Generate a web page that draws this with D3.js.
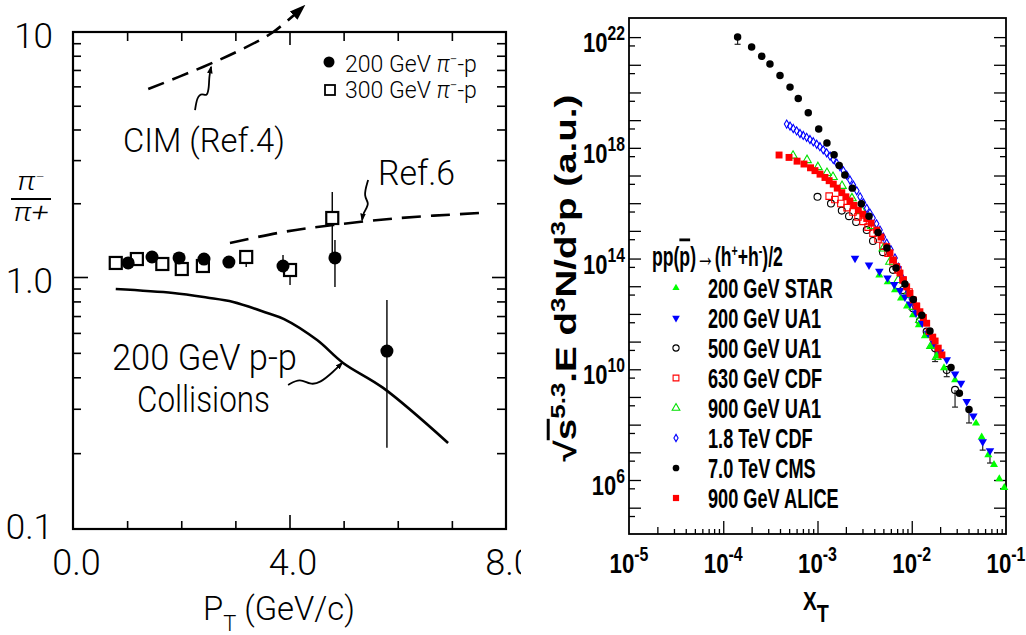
<!DOCTYPE html>
<html><head><meta charset="utf-8">
<script src="https://cdn.jsdelivr.net/npm/d3@7"></script>
<style>html,body{margin:0;padding:0;background:#fff}svg{display:block}</style>
</head><body>
<svg id="c" width="1026" height="635"></svg>
<script>
// ================= LEFT PANEL DATA (pi-/pi+ ratio vs pT) =================
const pt200 = [1.02, 1.46, 1.96, 2.42, 2.88, 3.88, 4.84, 5.80];
const ratio200 = [1.141, 1.207, 1.196, 1.184, 1.151, 1.109, 1.196, 0.508];
const ratio200Lo = [null, null, null, null, null, 1.068, 0.913, 0.21];
const ratio200Hi = [null, null, null, null, null, 1.23, 1.416, 0.81];
const pt300 = [0.79, 1.18, 1.65, 2.01, 2.40, 3.20, 4.01, 4.79];
const ratio300 = [1.141, 1.184, 1.130, 1.078, 1.109, 1.207, 1.068, 1.741];
const ratio300Lo = [null, null, null, null, null, 1.099, 0.930, 1.253];
const ratio300Hi = [null, null, null, null, null, 1.289, 1.119, 2.223];
const cimPt = [1.39, 2.40, 3.09, 3.70, 4.25];
const cimRatio = [5.85, 7.20, 8.44, 10.0, 12.65];
const ref6Pt = [2.90, 3.88, 4.81, 6.04, 7.52];
const ref6Ratio = [1.377, 1.526, 1.630, 1.741, 1.825];
const ppPt = [0.79, 1.85, 2.47, 2.96, 3.59, 3.90, 4.51, 4.99, 5.73, 6.93];
const ppRatio = [0.896, 0.864, 0.829, 0.796, 0.720, 0.681, 0.562, 0.456, 0.363, 0.2195];
// hand-drawn pointer squiggles (data units)
const cimPtrPt = [2.255, 2.292, 2.384, 2.477, 2.514, 2.514, 2.551];
const cimPtrR = [4.80, 5.43, 5.64, 5.43, 5.97, 6.55, 7.20];
const ref6PtrPt = [5.453, 5.360, 5.490, 5.360, 5.342];
const ref6PtrR = [2.489, 2.121, 2.005, 1.825, 1.709];
const ppPtrPt = [3.974, 4.196, 4.381, 4.566, 4.806, 4.972];
const ppPtrR = [0.373, 0.397, 0.373, 0.380, 0.420, 0.456];
const xTicksL = [0, 4, 8];
const xTickLabelsL = ['0.0', '4.0', '8.0'];
const yTicksL = [0.1, 1, 10];
const yTickLabelsL = ['0.1', '1.0', '10'];
const xMinorL = [1, 2, 3, 5, 6, 7];
const yMinorL = [0.2, 0.3, 0.4, 0.5, 0.6, 0.7, 0.8, 0.9, 2, 3, 4, 5, 6, 7, 8, 9];

// ================= RIGHT PANEL DATA (xT scaling) =================
const xStar = [4.53e-3, 5.56e-3, 6.64e-3, 7.69e-3, 8.91e-3, 1.03e-2, 1.19e-2, 1.38e-2, 1.60e-2, 1.85e-2, 2.20e-2, 2.88e-2, 4.81e-2, 5.52e-2, 6.49e-2, 7.46e-2, 8.49e-2, 9.59e-2];
const yStar = [2.5e13, 1.42e13, 7.3e12, 3.7e12, 1.9e12, 9.1e11, 4.0e11, 1.6e11, 6.9e10, 3.0e10, 1.12e10, 4.1e9, 1.12e8, 3.5e7, 8.0e6, 3.6e6, 1.09e6, 5.3e5];
const xUA1200 = [2.50e-3, 3.52e-3, 4.53e-3, 5.53e-3, 6.52e-3, 7.50e-3, 8.47e-3, 9.57e-3, 1.11e-2, 1.29e-2, 1.49e-2, 1.72e-2, 2.00e-2, 2.35e-2, 2.88e-2, 3.33e-2, 3.83e-2, 4.50e-2, 5.66e-2, 6.76e-2];
const yUA1200 = [1.02e14, 5.8e13, 3.5e13, 2.0e13, 1.15e13, 7.0e12, 4.1e12, 2.3e12, 1.07e12, 4.7e11, 2.0e11, 8.9e10, 4.2e10, 2.2e10, 6.8e9, 3.1e9, 6.8e8, 2.05e8, 2.4e7, 1.15e7];
const xUA1500 = [1.00e-3, 1.39e-3, 1.81e-3, 2.16e-3, 2.57e-3, 3.33e-3, 3.88e-3, 4.95e-3, 6.32e-3, 8.07e-3, 1.03e-2, 1.22e-2, 1.44e-2, 1.77e-2, 2.35e-2, 2.88e-2];
const yUA1500 = [1.7e16, 9.7e15, 5.4e15, 3.4e15, 2.1e15, 1.07e15, 4.3e14, 1.7e14, 3.9e13, 7.3e12, 1.6e12, 5.5e11, 2.3e11, 5.7e10, 9.4e9, 1.8e9];
const xCDF630 = [1.33e-3, 1.53e-3, 1.77e-3, 2.06e-3, 2.38e-3, 2.69e-3, 3.04e-3, 3.44e-3, 3.88e-3, 4.39e-3, 4.95e-3, 5.60e-3, 6.32e-3, 7.14e-3, 8.07e-3, 9.35e-3, 1.11e-2];
const yCDF630 = [1.8e16, 1.35e16, 9.7e15, 6.9e15, 4.8e15, 3.2e15, 2.2e15, 1.37e15, 8.3e14, 5.1e14, 2.8e14, 1.55e14, 7.7e13, 3.9e13, 1.67e13, 6.2e12, 1.9e12];
const xUA1900 = [5.50e-4, 7.74e-4, 1.01e-3, 1.26e-3, 1.46e-3, 1.82e-3, 2.32e-3, 2.96e-3, 3.78e-3, 4.99e-3, 5.87e-3, 7.19e-3, 8.83e-3, 1.04e-2, 1.22e-2, 1.44e-2, 1.60e-2, 1.84e-2];
const yUA1900 = [5.2e17, 3.6e17, 2.0e17, 1.23e17, 8.8e16, 4.2e16, 1.5e16, 5.2e15, 1.5e15, 2.3e14, 7.7e13, 1.67e13, 4.8e12, 1.8e12, 6.0e11, 1.73e11, 6.9e10, 2.8e10];
const xCDF1800 = [4.71e-4, 5.11e-4, 5.53e-4, 6.01e-4, 6.52e-4, 7.06e-4, 7.67e-4, 8.32e-4, 9.02e-4, 9.82e-4, 1.06e-3, 1.15e-3, 1.25e-3, 1.36e-3, 1.47e-3, 1.60e-3, 1.73e-3, 1.88e-3, 2.04e-3, 2.21e-3, 2.40e-3, 2.61e-3, 2.83e-3, 3.06e-3, 3.33e-3, 3.60e-3, 3.88e-3, 4.23e-3, 4.60e-3, 4.98e-3, 5.42e-3, 6.0e-3, 6.64e-3, 7.2e-3, 7.82e-3, 8.5e-3, 9.12e-3, 9.9e-3, 1.08e-2];
const yCDF1800 = [7.2e18, 6.1e18, 5.0e18, 4.1e18, 3.3e18, 2.8e18, 2.4e18, 2.0e18, 1.66e18, 1.35e18, 1.1e18, 8.5e17, 6.6e17, 5.0e17, 3.8e17, 2.8e17, 2.1e17, 1.48e17, 1.04e17, 6.9e16, 4.5e16, 2.8e16, 1.7e16, 1.05e16, 6.5e15, 4.4e15, 2.9e15, 1.8e15, 1.07e15, 6.0e14, 3.6e14, 2.1e14, 1.05e14, 4.9e13, 2.2e13, 1.2e13, 6.3e12, 3.5e12, 1.8e12];
const xCMS = [1.42e-4, 2.00e-4, 2.56e-4, 3.13e-4, 4.0e-4, 5.11e-4, 6.25e-4, 7.98e-4, 1.03e-3, 1.26e-3, 1.50e-3, 1.70e-3, 1.95e-3, 2.34e-3, 2.92e-3, 3.52e-3, 4.39e-3, 5.46e-3, 6.81e-3, 8.47e-3, 1.04e-2, 1.28e-2, 1.56e-2, 2.61e-2, 3.20e-2, 4.05e-2];
const yCMS = [1.0e22, 4.4e21, 2.05e21, 1.06e21, 4.1e20, 1.56e20, 6.1e19, 1.85e19, 4.8e18, 1.49e18, 5.6e17, 2.3e17, 1.04e17, 3.5e16, 9.5e15, 3.4e15, 8.7e14, 2.4e14, 4.6e13, 1.2e13, 3.3e12, 9.0e11, 2.4e11, 1.15e10, 1.35e9, 3.5e8];
const xAlice = [3.91e-4, 4.99e-4, 6.07e-4, 7.19e-4, 8.43e-4, 9.40e-4, 1.064e-3, 1.20e-3, 1.33e-3, 1.47e-3, 1.62e-3, 1.81e-3, 2.00e-3, 2.21e-3, 2.44e-3, 2.71e-3, 3.02e-3, 3.33e-3, 3.70e-3, 4.25e-3, 4.72e-3, 5.42e-3, 5.87e-3, 6.37e-3, 6.92e-3, 7.50e-3, 8.13e-3, 8.83e-3, 9.57e-3, 1.038e-2, 1.13e-2, 1.22e-2, 1.33e-2, 1.44e-2, 1.53e-2, 1.67e-2, 1.77e-2, 1.91e-2, 2.09e-2];
const yAlice = [5.5e17, 4.5e17, 3.3e17, 2.6e17, 1.9e17, 1.5e17, 1.12e17, 8.5e16, 6.5e16, 4.9e16, 3.5e16, 2.4e16, 1.7e16, 1.2e16, 8.3e15, 5.6e15, 4.0e15, 2.8e15, 1.9e15, 1.07e15, 6.0e14, 2.7e14, 1.6e14, 8.9e13, 5.1e13, 3.0e13, 1.7e13, 9.5e12, 5.5e12, 3.2e12, 1.9e12, 1.2e12, 7.4e11, 4.6e11, 2.3e11, 1.45e11, 1.05e11, 5.8e10, 3.3e10];
// lower error bars shown on a few points
const errX = [1.42e-4, 4.05e-2, 1.77e-2, 2.35e-2, 2.88e-2, 5.66e-2, 6.76e-2];
const errY = [1.0e22, 3.5e8, 5.7e10, 9.4e9, 1.8e9, 2.4e7, 1.15e7];
const errLo = [5.5e21, 1.15e8, 1.9e10, 5.4e9, 4.3e8, 1.2e7, 4.1e6];
const legendNames = ['200 GeV STAR', '200 GeV UA1', '500 GeV UA1', '630 GeV CDF', '900 GeV UA1', '1.8 TeV CDF', '7.0 TeV CMS', '900 GeV ALICE'];
const yTickExpR = [22, 18, 14, 10, 6];
const xTickExpR = [-5, -4, -3, -2, -1];

// ================= DRAWING =================
const svg = d3.select('#c');
const defs = svg.append('defs');
defs.append('clipPath').attr('id', 'clipL').append('rect').attr('x', 0).attr('y', 0).attr('width', 521).attr('height', 635);
function arrowMarker(id, w) {
  defs.append('marker').attr('id', id).attr('viewBox', '0 0 10 10').attr('refX', 8).attr('refY', 5)
    .attr('markerWidth', w).attr('markerHeight', w).attr('markerUnits', 'userSpaceOnUse').attr('orient', 'auto')
    .append('path').attr('d', 'M0,1.5 L10,5 L0,8.5 Z').attr('fill', '#000');
}
arrowMarker('arrBig', 16);
arrowMarker('arrSmall', 8);

function makeText(parent, parts, o) {
  const g = parent.append('g');
  const t = g.append('text').attr('x', 0).attr('y', 0)
    .attr('font-family', o.family).attr('font-size', o.size)
    .attr('font-weight', o.weight || 'normal').attr('text-anchor', o.anchor || 'start')
    .attr('fill', '#000');
  if (o.italic) t.attr('font-style', 'italic');
  let off = 0;
  parts.forEach(p => {
    if (typeof p === 'string') p = { t: p };
    const s = t.append('tspan').text(p.t).attr('dy', (p.dy || 0) - off);
    if (p.size) s.attr('font-size', p.size);
    if (p.deco) s.attr('text-decoration', p.deco);
    if (p.italic) s.attr('font-style', 'italic');
    off = p.dy || 0;
  });
  return { g, t };
}
function txt(parent, x, y, parts, o) {
  const { g, t } = makeText(parent, parts, o);
  let sx = o.sx || 1;
  if (o.w) { const w = t.node().getBBox().width; if (w > 0) sx = o.w / w; }
  const sy = o.sy || 1;
  g.attr('transform', `translate(${x},${y})` + (o.rot ? ` rotate(${o.rot})` : '') + ` scale(${sx},${sy})`);
  return g;
}
// squeeze factor so that a sample string has the target width
function squeezeFor(parent, parts, o, target) {
  const { g, t } = makeText(parent, parts, o);
  const w = t.node().getBBox().width;
  g.remove();
  return w > 0 ? target / w : 1;
}
function axisG(parent, axis, tx, ty, sw) {
  const g = parent.append('g').attr('transform', `translate(${tx},${ty})`).call(axis);
  g.select('.domain').remove();
  g.selectAll('line').attr('stroke', '#000').attr('stroke-width', sw || 1.6);
  return g;
}

// ---------- LEFT PANEL ----------
const FL = 'Roboto, "Liberation Sans", sans-serif';
const xL = d3.scaleLinear().domain([0, 8]).range([73, 506]);
const yL = d3.scaleLog().domain([0.1, 1, 10]).range([529, 277, 32]);
const Lg = svg.append('g').attr('clip-path', 'url(#clipL)');

axisG(Lg, d3.axisBottom(xL).tickValues(xMinorL).tickSize(-8).tickFormat(''), 0, 529);
axisG(Lg, d3.axisBottom(xL).tickValues([4]).tickSize(-14).tickFormat(''), 0, 529);
axisG(Lg, d3.axisTop(xL).tickValues(xMinorL).tickSize(-9).tickFormat(''), 0, 32);
axisG(Lg, d3.axisTop(xL).tickValues([4]).tickSize(-13).tickFormat(''), 0, 32);
axisG(Lg, d3.axisLeft(yL).tickValues(yMinorL).tickSize(-8).tickFormat(''), 73, 0);
axisG(Lg, d3.axisLeft(yL).tickValues([1]).tickSize(-15).tickFormat(''), 73, 0);
axisG(Lg, d3.axisRight(yL).tickValues(yMinorL).tickSize(-9).tickFormat(''), 506, 0);
axisG(Lg, d3.axisRight(yL).tickValues([1]).tickSize(-14).tickFormat(''), 506, 0);
const xlabL = axisG(Lg, d3.axisBottom(xL).tickValues(xTicksL).tickSize(0).tickPadding(20).tickFormat((d, i) => xTickLabelsL[i]), 0, 529);
xlabL.selectAll('text').attr('font-family', FL).attr('font-size', 36).attr('font-weight', 300).attr('fill', '#000').attr('dx', 3);
const ylabL = axisG(Lg, d3.axisLeft(yL).tickValues(yTicksL).tickSize(0).tickPadding(20).tickFormat((d, i) => yTickLabelsL[i]), 73, 0);
ylabL.selectAll('text').attr('font-family', FL).attr('font-size', 35).attr('font-weight', 300).attr('fill', '#000')
  .attr('dy', d => d < 0.5 ? '0.26em' : '0.45em');

Lg.append('rect').attr('x', xL(0)).attr('y', yL(10)).attr('width', xL(8) - xL(0)).attr('height', yL(0.1) - yL(10))
  .attr('fill', 'none').attr('stroke', '#000').attr('stroke-width', 2.2);

const lineL = d3.line().x(d => xL(d[0])).y(d => yL(d[1])).curve(d3.curveCatmullRom);
const zip = (a, b) => a.map((v, i) => [v, b[i]]);
Lg.append('path').attr('d', lineL(zip(ppPt, ppRatio))).attr('fill', 'none').attr('stroke', '#000').attr('stroke-width', 2.6);
Lg.append('path').attr('d', lineL(zip(ref6Pt, ref6Ratio))).attr('fill', 'none').attr('stroke', '#000').attr('stroke-width', 2.6).attr('stroke-dasharray', '19,10');
Lg.append('path').attr('d', lineL(zip(cimPt, cimRatio))).attr('fill', 'none').attr('stroke', '#000').attr('stroke-width', 2.6).attr('stroke-dasharray', '17,9').attr('marker-end', 'url(#arrBig)');
const wig = d3.line().x(d => xL(d[0])).y(d => yL(d[1])).curve(d3.curveBasis);
[[cimPtrPt, cimPtrR], [ref6PtrPt, ref6PtrR], [ppPtrPt, ppPtrR]].forEach(([a, b]) => {
  Lg.append('path').attr('d', wig(zip(a, b))).attr('fill', 'none').attr('stroke', '#000').attr('stroke-width', 1.8).attr('marker-end', 'url(#arrSmall)');
});
// error bars
function errL(pts, lo, hi) {
  pts.forEach((p, i) => {
    if (lo[i] == null) return;
    Lg.append('line').attr('x1', xL(p)).attr('x2', xL(p)).attr('y1', yL(lo[i])).attr('y2', yL(hi[i])).attr('stroke', '#000').attr('stroke-width', 1.4);
  });
}
errL(pt200, ratio200Lo, ratio200Hi);
errL(pt300, ratio300Lo, ratio300Hi);
Lg.selectAll('rect.sq').data(zip(pt300, ratio300)).join('rect').attr('class', 'sq')
  .attr('x', d => xL(d[0]) - 6).attr('y', d => yL(d[1]) - 6).attr('width', 12).attr('height', 12)
  .attr('fill', '#fff').attr('stroke', '#000').attr('stroke-width', 2.2);
Lg.selectAll('circle.dot').data(zip(pt200, ratio200)).join('circle').attr('class', 'dot')
  .attr('cx', d => xL(d[0])).attr('cy', d => yL(d[1])).attr('r', 6.5).attr('fill', '#000');
// legend left
Lg.append('circle').attr('cx', 329).attr('cy', 62).attr('r', 5.5).attr('fill', '#000');
Lg.append('rect').attr('x', 325).attr('y', 85).attr('width', 10).attr('height', 10).attr('fill', '#fff').attr('stroke', '#000').attr('stroke-width', 1.8);
const legPi = (e) => [e + ' GeV ', { t: 'π', italic: true }, { t: '−', dy: -8, size: 14 }, { t: '-p', dy: 0 }];
txt(Lg, 345, 72, legPi('200'), { family: FL, size: 24, weight: 300, w: 132 });
txt(Lg, 345, 98, legPi('300'), { family: FL, size: 24, weight: 300, w: 132 });
// annotations
txt(Lg, 123, 152, ['CIM (Ref.4)'], { family: FL, size: 33, weight: 300, w: 162 });
txt(Lg, 378, 185, ['Ref.6'], { family: FL, size: 35, weight: 300, w: 77 });
txt(Lg, 112, 370, ['200 GeV p-p'], { family: FL, size: 37, weight: 300, w: 185 });
txt(Lg, 137, 412, ['Collisions'], { family: FL, size: 37, weight: 300, w: 133 });
// axis titles
txt(Lg, 203, 620, ['P', { t: 'T', dy: 11, size: 22 }, { t: ' (GeV/c)', dy: 0 }], { family: FL, size: 33, weight: 300, w: 152 });
txt(Lg, 31, 190, ['π', { t: '−', dy: -8, size: 14 }], { family: FL, size: 26, anchor: 'middle', italic: true, weight: 300, sx: 1.2 });
Lg.append('line').attr('x1', 11).attr('x2', 51).attr('y1', 199).attr('y2', 199).attr('stroke', '#000').attr('stroke-width', 2);
txt(Lg, 31, 221, ['π+'], { family: FL, size: 26, anchor: 'middle', italic: true, weight: 300, sx: 1.2 });

// ---------- RIGHT PANEL ----------
const FR = '"Liberation Sans", Arimo, Arial, sans-serif';
const xR = d3.scaleLog().domain([1e-5, 1e-1]).range([629, 1006]);
const yR = d3.scaleLog().domain([1.12e4, 4.9e22]).range([534, 18]);
const R = svg.append('g');
const decY = d3.range(5, 23).map(e => Math.pow(10, e));
const fiveY = d3.range(4, 22).map(e => 5 * Math.pow(10, e));
axisG(R, d3.axisLeft(yR).tickValues(decY).tickSize(-12).tickFormat(''), 629, 0, 1.3);
axisG(R, d3.axisLeft(yR).tickValues(fiveY).tickSize(-6).tickFormat(''), 629, 0, 1.3);
axisG(R, d3.axisRight(yR).tickValues(decY).tickSize(-12).tickFormat(''), 1006, 0, 1.3);
axisG(R, d3.axisRight(yR).tickValues(fiveY).tickSize(-6).tickFormat(''), 1006, 0, 1.3);
const decX = [1e-4, 1e-3, 1e-2];
const minX2 = [2e-5, 2e-4, 2e-3, 2e-2];
const minX = [];
[-5, -4, -3, -2].forEach(e => { for (let m = 3; m <= 9; m++) minX.push(m * Math.pow(10, e)); });
axisG(R, d3.axisBottom(xR).tickValues(decX).tickSize(-13).tickFormat(''), 0, 534, 1.3);
axisG(R, d3.axisBottom(xR).tickValues(minX2).tickSize(-7).tickFormat(''), 0, 534, 1.3);
axisG(R, d3.axisBottom(xR).tickValues(minX).tickSize(-5).tickFormat(''), 0, 534, 1.3);
R.append('rect').attr('x', xR(1e-5)).attr('y', yR(4.9e22)).attr('width', xR(1e-1) - xR(1e-5)).attr('height', yR(1.12e4) - yR(4.9e22))
  .attr('fill', 'none').attr('stroke', '#000').attr('stroke-width', 1.8);
const expParts = e => ['10', { t: String(e), dy: -12, size: 20 }];
const tickFont = { family: FR, size: 28, weight: 'bold' };
const sxY = squeezeFor(R, expParts(22), tickFont, 42);
const sxX = squeezeFor(R, expParts(-5), tickFont, 39);
yTickExpR.forEach(e => {
  txt(R, 625, yR(Math.pow(10, e)) + 15, expParts(e), Object.assign({ anchor: 'end', sx: sxY }, tickFont));
});
xTickExpR.forEach(e => {
  txt(R, xR(Math.pow(10, e)), 573, expParts(e), Object.assign({ anchor: 'middle', sx: sxX }, tickFont));
});
txt(R, 803, 610, ['X', { t: 'T', dy: 12, size: 24 }], { family: FR, size: 25, weight: 'bold', w: 26 });
txt(R, 576, 278, ['√', { t: 's', deco: 'overline' }, { t: '5.3', dy: -15, size: 27 }, { t: '.E d', dy: 0 }, { t: '3', dy: -15, size: 27 }, { t: 'N/d', dy: 0 }, { t: '3', dy: -15, size: 27 }, { t: 'p (a.u.)', dy: 0 }],
  { family: FR, size: 40, weight: 'bold', anchor: 'middle', rot: -90, w: 367, sy: 0.74 });

// series
const series = [
  { x: xUA1500, y: yUA1500, type: d3.symbolCircle, size: 38, fill: 'none', stroke: '#000', rot: 0 },
  { x: xCDF630, y: yCDF630, type: d3.symbolSquare, size: 42, fill: 'none', stroke: '#ff0000', rot: 0 },
  { x: xUA1900, y: yUA1900, type: d3.symbolTriangle, size: 32, fill: 'none', stroke: '#00e000', rot: 0 },
  { x: xStar, y: yStar, type: d3.symbolTriangle, size: 28, fill: '#00ff00', stroke: 'none', rot: 0 },
  { x: xCDF1800, y: yCDF1800, type: d3.symbolDiamond, size: 19, fill: 'none', stroke: '#0000ff', rot: 0 },
  { x: xUA1200, y: yUA1200, type: d3.symbolTriangle, size: 32, fill: '#0000ff', stroke: 'none', rot: 180 },
  { x: xAlice, y: yAlice, type: d3.symbolSquare, size: 48, fill: '#ff0000', stroke: 'none', rot: 0 },
  { x: xCMS, y: yCMS, type: d3.symbolCircle, size: 44, fill: '#000', stroke: 'none', rot: 0 }
];
// legend order index into series
const legendOrder = [3, 5, 0, 1, 2, 4, 7, 6];
// error bars
errX.forEach((x, i) => {
  const px = xR(x), y1 = yR(errY[i]), y2 = yR(errLo[i]);
  R.append('line').attr('x1', px).attr('x2', px).attr('y1', y1).attr('y2', y2).attr('stroke', '#222').attr('stroke-width', 1.2);
  R.append('line').attr('x1', px - 3).attr('x2', px + 3).attr('y1', y2).attr('y2', y2).attr('stroke', '#222').attr('stroke-width', 1.2);
});
series.forEach(s => {
  const path = d3.symbol().type(s.type).size(s.size)();
  R.append('g').selectAll('path').data(zip(s.x, s.y)).join('path')
    .attr('d', path)
    .attr('transform', d => `translate(${xR(d[0])},${yR(d[1])}) rotate(${s.rot})`)
    .attr('fill', s.fill).attr('stroke', s.stroke).attr('stroke-width', 1.1);
});
// legend
txt(R, 652, 266, ['pp(', { t: 'p', deco: 'overline' }, ')', { t: '→', size: 30 }, '(h', { t: '+', dy: -10, size: 17 }, { t: '+h', dy: 0 }, { t: '-', dy: -10, size: 17 }, { t: ')/2', dy: 0 }],
  { family: FR, size: 28, weight: 'bold', w: 131 });
const legFont = { family: FR, size: 28, weight: 'bold' };
const sxLeg = squeezeFor(R, [legendNames[0]], legFont, 125);
legendOrder.forEach((si, i) => {
  const s = series[si];
  const cy = 288 + 30 * i;
  R.append('path').attr('d', d3.symbol().type(s.type).size(s.size * 0.8)())
    .attr('transform', `translate(676,${cy}) rotate(${s.rot})`)
    .attr('fill', s.fill).attr('stroke', s.stroke).attr('stroke-width', 1.1);
  txt(R, 708, cy + 10, [legendNames[i]], Object.assign({ sx: sxLeg }, legFont));
});
</script>
</body></html>
